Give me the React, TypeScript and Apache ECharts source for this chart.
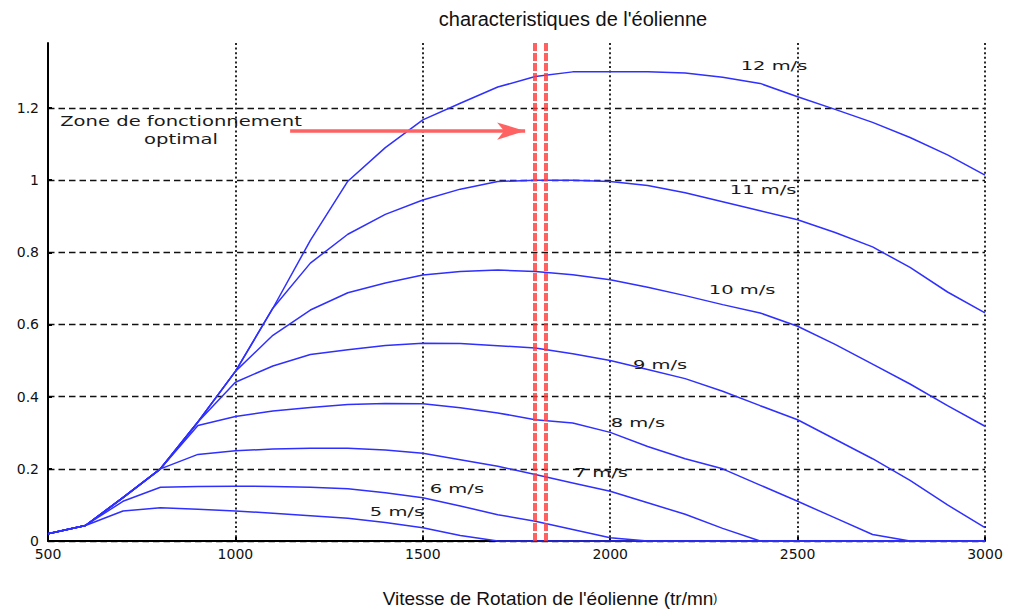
import React, { useEffect, useRef } from "react";
import * as echarts from "echarts";

// rotation speed (tr/mn)
const xValues = [500, 600, 700, 800, 900, 1000, 1100, 1200, 1300, 1400, 1500, 1600, 1700, 1800, 1900, 2000, 2100, 2200, 2300, 2400, 2500, 2600, 2700, 2800, 2900, 3000];

const xTicks = [500, 1000, 1500, 2000, 2500, 3000];
const yTicks = [0, 0.2, 0.4, 0.6, 0.8, 1, 1.2];
const yTop = 1.38;

const speedNames = ["5 m/s", "6 m/s", "7 m/s", "8 m/s", "9 m/s", "10 m/s", "11 m/s", "12 m/s"];

const p5 = [0.02, 0.043, 0.083, 0.092, 0.088, 0.083, 0.077, 0.07, 0.063, 0.051, 0.037, 0.015, 0, 0, 0, 0, 0, 0, 0, 0, 0, 0, 0, 0, 0, 0];
const p6 = [0.02, 0.043, 0.11, 0.149, 0.151, 0.152, 0.151, 0.149, 0.145, 0.134, 0.12, 0.097, 0.073, 0.055, 0.032, 0.009, 0, 0, 0, 0, 0, 0, 0, 0, 0, 0];
const p7 = [0.02, 0.043, 0.12, 0.2, 0.24, 0.25, 0.255, 0.257, 0.257, 0.252, 0.243, 0.225, 0.207, 0.184, 0.161, 0.138, 0.106, 0.074, 0.035, 0, 0, 0, 0, 0, 0, 0];
const p8 = [0.02, 0.043, 0.12, 0.2, 0.32, 0.345, 0.36, 0.37, 0.378, 0.381, 0.38, 0.369, 0.355, 0.336, 0.327, 0.301, 0.262, 0.228, 0.2, 0.155, 0.11, 0.064, 0.018, 0, 0, 0];
const p9 = [0.02, 0.043, 0.12, 0.2, 0.33, 0.44, 0.485, 0.517, 0.53, 0.542, 0.548, 0.547, 0.541, 0.535, 0.519, 0.5, 0.475, 0.45, 0.415, 0.375, 0.336, 0.282, 0.228, 0.168, 0.1, 0.037];
const p10 = [0.02, 0.043, 0.12, 0.2, 0.33, 0.47, 0.57, 0.64, 0.688, 0.715, 0.737, 0.747, 0.751, 0.747, 0.738, 0.724, 0.703, 0.68, 0.655, 0.632, 0.595, 0.545, 0.49, 0.435, 0.375, 0.318];
const p11 = [0.02, 0.043, 0.12, 0.2, 0.33, 0.47, 0.645, 0.77, 0.85, 0.905, 0.945, 0.975, 0.996, 1.0, 1.0, 0.996, 0.985, 0.965, 0.94, 0.915, 0.89, 0.855, 0.815, 0.758, 0.69, 0.632];
const p12 = [0.02, 0.043, 0.12, 0.2, 0.33, 0.47, 0.645, 0.833, 0.997, 1.09, 1.167, 1.213, 1.258, 1.287, 1.3, 1.3, 1.3, 1.297, 1.285, 1.268, 1.231, 1.196, 1.16, 1.118, 1.07, 1.014];

const curves = [p5, p6, p7, p8, p9, p10, p11, p12];

// annotation anchors (data space)
const labelX = [1431, 1591, 1975, 2074, 2133, 2352, 2408, 2437];
const labelY = [0.082, 0.145, 0.19, 0.328, 0.489, 0.696, 0.973, 1.316];
const optimalLines = [1798, 1827];
const arrowFrom = [1146, 1.136];
const arrowTo = [1773, 1.136];
const zoneAnchor = [855, 1.139];

const TITLE = "characteristiques de l'éolienne";
const XNAME = "Vitesse de Rotation de l'éolienne (tr/mn{s|)}";
const ZONE = "Zone de fonctionnement\noptimal";

const MATLAB_FONT = "DejaVu Sans";

export default function App() {
  const ref = useRef<HTMLDivElement>(null);

  useEffect(() => {
    if (!ref.current) return;
    const chart = echarts.init(ref.current, null, { renderer: "svg" });

    const series: any[] = curves.map((vals, i) => ({
      name: speedNames[i],
      type: "line",
      data: xValues.map((x, k) => [x, vals[k]]),
      showSymbol: false,
      symbol: "none",
      clip: false,
      lineStyle: { color: "#2f2fff", width: 1.5 },
      z: 3,
    }));

    series[0].markLine = {
      silent: true,
      symbol: "none",
      label: { show: false },
      lineStyle: { color: "#ff3a3a", width: 4, type: [8, 2], opacity: 0.8 },
      data: optimalLines.map((x) => ({ xAxis: x })),
      z: 4,
    };
    series[1].markLine = {
      silent: true,
      label: { show: false },
      lineStyle: { color: "#ff6262", width: 3.5, type: "solid" },
      data: [
        [
          { coord: arrowFrom, symbol: "none" },
          { coord: arrowTo, symbol: "arrow", symbolSize: [13, 28] },
        ],
      ],
      z: 4,
    };

    chart.setOption({
      animation: false,
      backgroundColor: "#ffffff",
      grid: { left: 48, right: 25, top: 43, bottom: 72, containLabel: false, outerBoundsMode: "none" },
      xAxis: {
        type: "value",
        min: xTicks[0],
        max: xTicks[xTicks.length - 1],
        interval: xTicks[1] - xTicks[0],
        axisLine: { show: true, lineStyle: { color: "#000", width: 2 } },
        axisTick: { show: true, inside: true, length: 4, lineStyle: { color: "#000", width: 2 } },
        axisLabel: {
          color: "#111",
          fontFamily: MATLAB_FONT,
          fontSize: 14,
          margin: 6,
          formatter: (v: number) => String(v),
        },
        splitLine: { show: true, lineStyle: { color: "#2a2a2a", width: 2, type: [2, 2.6] } },
      },
      yAxis: {
        type: "value",
        min: yTicks[0],
        max: yTop,
        interval: yTicks[1] - yTicks[0],
        axisLine: { show: true, lineStyle: { color: "#000", width: 2 } },
        axisTick: { show: true, inside: true, length: 4, lineStyle: { color: "#000", width: 2 } },
        axisLabel: {
          color: "#111",
          fontFamily: MATLAB_FONT,
          fontSize: 14,
          margin: 9,
          showMaxLabel: false,
          formatter: (v: number) => (yTicks.some((t) => Math.abs(t - v) < 1e-6) ? String(Math.round(v * 10) / 10) : ""),
        },
        splitLine: { show: true, showMaxLine: false, lineStyle: { color: "#111", width: 1.4, type: [6.5, 4] } },
      },
      series,
    });

    const toPx = (p: number[]) => chart.convertToPixel({ gridIndex: 0 }, p) as number[];

    const graphics: any[] = [
      {
        type: "text",
        x: 573,
        y: 19,
        style: {
          text: TITLE,
          fontFamily: "Liberation Sans, Arial, sans-serif",
          fontSize: 20,
          fill: "#111",
          align: "center",
          verticalAlign: "middle",
        },
      },
      {
        type: "text",
        x: 550,
        y: 598,
        style: {
          text: XNAME,
          fontFamily: "Liberation Sans, Arial, sans-serif",
          fontSize: 19,
          fill: "#111",
          align: "center",
          verticalAlign: "middle",
          rich: { s: { fontSize: 12, fontFamily: "Liberation Sans, Arial, sans-serif", fill: "#111" } },
        },
      },
    ];

    const zp = toPx(zoneAnchor);
    graphics.push({
      type: "text",
      x: zp[0],
      y: zp[1],
      scaleX: 1.45,
      style: {
        text: ZONE,
        fontFamily: MATLAB_FONT,
        fontSize: 13.5,
        lineHeight: 18,
        fill: "#1a1a1a",
        align: "center",
        verticalAlign: "middle",
      },
      z: 10,
    });

    speedNames.forEach((name, i) => {
      const p = toPx([labelX[i], labelY[i]]);
      graphics.push({
        type: "text",
        x: p[0],
        y: p[1],
        scaleX: 1.5,
        style: {
          text: name,
          fontFamily: MATLAB_FONT,
          fontSize: 13,
          fill: "#1a1a1a",
          align: "center",
          verticalAlign: "middle",
        },
        z: 10,
      });
    });

    chart.setOption({ graphic: graphics });

    return () => chart.dispose();
  }, []);

  return (
    <div
      ref={ref}
      style={{ position: "fixed", left: 0, top: 0, width: 1010, height: 613, background: "#fff" }}
    />
  );
}
